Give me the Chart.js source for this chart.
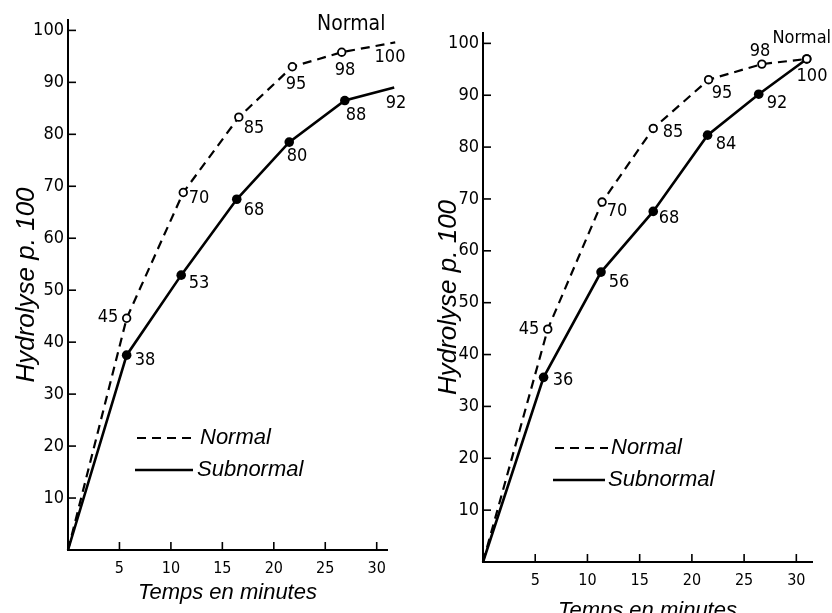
<!DOCTYPE html>
<html><head><meta charset="utf-8">
<script src="https://cdn.jsdelivr.net/npm/chart.js@4"></script>
<style>
html,body{margin:0;padding:0;background:#fff;overflow:hidden;width:832px;height:613px;}
#wrapL{position:absolute;left:0;top:0;width:416px;height:613px;}
#wrapR{position:absolute;left:416px;top:0;width:416px;height:630px;}
canvas{display:block;}
</style></head><body>
<div id="wrapL"><canvas id="cL" width="416" height="613"></canvas></div>
<div id="wrapR"><canvas id="cR" width="416" height="630"></canvas></div>
<script>
// ---- Data ----
const seriesNames = ['Normal', 'Subnormal'];
const xAxisTitle = 'Temps en minutes';
const yAxisTitle = 'Hydrolyse p. 100';
const xTickValues = [5, 10, 15, 20, 25, 30];
const yTickValues = [10, 20, 30, 40, 50, 60, 70, 80, 90, 100];

// Left panel
const leftNormalTime  = [0, 5.7, 11.2, 16.6, 21.8, 26.6, 31.8];
const leftNormalValue = [0, 44.6, 68.8, 83.3, 93.0, 95.8, 97.7];
const leftNormalText  = ['', '45', '70', '85', '95', '98', '100'];
const leftSubTime     = [0, 5.7, 11.0, 16.4, 21.5, 26.9, 31.7];
const leftSubValue    = [0, 37.5, 52.9, 67.5, 78.5, 86.5, 89.0];
const leftSubText     = ['', '38', '53', '68', '80', '88', '92'];

// Right panel
const rightNormalTime  = [0, 6.2, 11.4, 16.3, 21.6, 26.7, 31.0];
const rightNormalValue = [0, 44.9, 69.4, 83.6, 93.0, 96.0, 97.0];
const rightNormalText  = ['', '45', '70', '85', '95', '98', '100'];
const rightSubTime     = [0, 5.8, 11.3, 16.3, 21.5, 26.4, 31.0];
const rightSubValue    = [0, 35.6, 55.9, 67.6, 82.3, 90.2, 97.0];
const rightSubText     = ['', '36', '56', '68', '84', '92', '100'];

// ---- Rendering ----
const NARROW = '"Liberation Sans Narrow", "DejaVu Sans Condensed", "Liberation Sans", sans-serif';
const SANS = '"Liberation Sans", Arial, sans-serif';

function pts(xs, ys) { return xs.map((x, i) => ({x: x, y: ys[i]})); }

const annot = {
  id: 'annot',
  afterDatasetsDraw(chart, args, o) {
    const ctx = chart.ctx;
    const xs = chart.scales.x, ys = chart.scales.y;
    const line = (a, b, c, d) => { ctx.beginPath(); ctx.moveTo(a, b); ctx.lineTo(c, d); ctx.stroke(); };
    ctx.save();
    ctx.strokeStyle = '#000';
    ctx.lineWidth = 1.6;
    const x0 = xs.left, y0 = ys.bottom;
    xTickValues.forEach(v => { const px = xs.getPixelForValue(v); line(px, y0, px, y0 - o.tickLen); });
    yTickValues.forEach(v => { const py = ys.getPixelForValue(v); line(x0, py, x0 + o.tickLen, py); });

    // point labels
    ctx.fillStyle = '#000';
    ctx.font = '18px ' + NARROW;
    ctx.textAlign = 'center';
    ctx.textBaseline = 'middle';
    const done = new Set();
    chart.data.datasets.forEach((ds, di) => {
      const meta = chart.getDatasetMeta(di);
      ds.pointTexts.forEach((t, i) => {
        if (!t) return;
        const el = meta.data[i];
        const off = o.offsets[di][i];
        const px = Math.round(el.x + off[0]), py = Math.round(el.y + off[1]);
        const key = t + '@' + px + ',' + py;
        if (done.has(key)) return;
        done.add(key);
        ctx.fillText(t, px, py);
      });
    });

    // curve name near the end of the Normal curve
    const nm = chart.getDatasetMeta(0).data;
    const last = nm[nm.length - 1];
    ctx.font = o.nameSize + 'px ' + NARROW;
    ctx.fillText(chart.data.datasets[0].label, last.x + o.nameOffset[0], last.y + o.nameOffset[1]);

    // legend
    o.legend.forEach((it, i) => {
      const ds = chart.data.datasets[i];
      ctx.setLineDash(ds.borderDash || []);
      ctx.lineWidth = ds.borderWidth;
      line(it.x1, it.y, it.x2, it.y);
      ctx.setLineDash([]);
      ctx.font = 'italic 22px ' + SANS;
      ctx.textAlign = 'left';
      ctx.fillText(ds.label, it.tx, it.y);
    });
    ctx.restore();
  }
};

function makeChart(id, cfg) {
  const datasets = [
    {
      label: seriesNames[0],
      data: pts(cfg.nT, cfg.nV),
      pointTexts: cfg.nText,
      showLine: true,
      borderColor: '#000',
      borderWidth: 2.2,
      borderDash: [9, 6],
      pointRadius: c => c.dataIndex === 0 ? 0 : 3.8,
      pointBackgroundColor: '#fff',
      pointBorderColor: '#000',
      pointBorderWidth: 1.8,
      clip: false
    },
    {
      label: seriesNames[1],
      data: pts(cfg.sT, cfg.sV),
      pointTexts: cfg.sText,
      showLine: true,
      borderColor: '#000',
      borderWidth: 2.6,
      pointRadius: c => c.dataIndex === 0 ? 0 : 4.8,
      pointBackgroundColor: '#000',
      pointBorderColor: '#000',
      pointBorderWidth: 0,
      clip: false
    }
  ];
  return new Chart(document.getElementById(id), {
    type: 'scatter',
    data: { datasets: datasets },
    plugins: [annot],
    options: {
      responsive: false,
      animation: false,
      events: [],
      layout: { padding: { top: cfg.padTop, right: cfg.padRight, left: 0, bottom: 0 } },
      plugins: {
        legend: { display: false },
        tooltip: { enabled: false },
        annot: {
          tickLen: 8,
          offsets: cfg.offsets,
          nameOffset: cfg.nameOffset,
          nameSize: cfg.nameSize,
          legend: cfg.legend
        }
      },
      scales: {
        x: {
          type: 'linear',
          min: 0,
          max: cfg.xMax,
          afterFit: s => { s.height = cfg.xH; },
          afterBuildTicks: s => { s.ticks = xTickValues.map(v => ({value: v})); },
          grid: { display: false, drawTicks: false },
          border: { display: true, color: '#000', width: 2 },
          ticks: { color: '#000', font: { family: NARROW, size: 16 }, padding: 9, maxRotation: 0, autoSkip: false },
          title: { display: true, text: xAxisTitle, color: '#000', font: { family: SANS, size: 22, style: 'italic' }, padding: { top: 0, bottom: cfg.xTitlePad } }
        },
        y: {
          type: 'linear',
          min: 0,
          max: 102,
          afterFit: s => { s.width = cfg.yW; },
          afterBuildTicks: s => { s.ticks = yTickValues.map(v => ({value: v})); },
          grid: { display: false, drawTicks: false },
          border: { display: true, color: '#000', width: 2 },
          ticks: { color: '#000', font: { family: NARROW, size: 18 }, padding: 4, autoSkip: false },
          title: { display: true, text: yAxisTitle, color: '#000', font: { family: SANS, size: 26, style: 'italic' }, padding: { top: cfg.yTitlePad, bottom: 0 } }
        }
      }
    }
  });
}

makeChart('cL', {
  nT: leftNormalTime, nV: leftNormalValue, nText: leftNormalText,
  sT: leftSubTime, sV: leftSubValue, sText: leftSubText,
  xMax: 31, xH: 63, yW: 68, padTop: 20, padRight: 29,
  xTitlePad: 7, yTitlePad: 11,
  offsets: [
    [null, [-19, -1], [16, 5], [15, 11], [4, 17], [3, 18], [-5, 15]],
    [null, [18, 5], [18, 8], [17, 11], [8, 14], [11, 14], [2, 15]]
  ],
  nameOffset: [-44, -18], nameSize: 21,
  legend: [ {x1: 137, x2: 193, y: 438, tx: 200}, {x1: 135, x2: 193, y: 470, tx: 197} ]
});

makeChart('cR', {
  nT: rightNormalTime, nV: rightNormalValue, nText: rightNormalText,
  sT: rightSubTime, sV: rightSubValue, sText: rightSubText,
  xMax: 31.5, xH: 68, yW: 67, padTop: 33, padRight: 20,
  xTitlePad: 6, yTitlePad: 17,
  offsets: [
    [null, [-19, 0], [15, 9], [20, 4], [13, 13], [-2, -13], [5, 17]],
    [null, [19, 3], [18, 10], [16, 7], [18, 9], [18, 9], [5, 17]]
  ],
  nameOffset: [-5, -21], nameSize: 18,
  legend: [ {x1: 139, x2: 192, y: 448, tx: 195}, {x1: 137, x2: 189, y: 480, tx: 192} ]
});
</script>
</body></html>
